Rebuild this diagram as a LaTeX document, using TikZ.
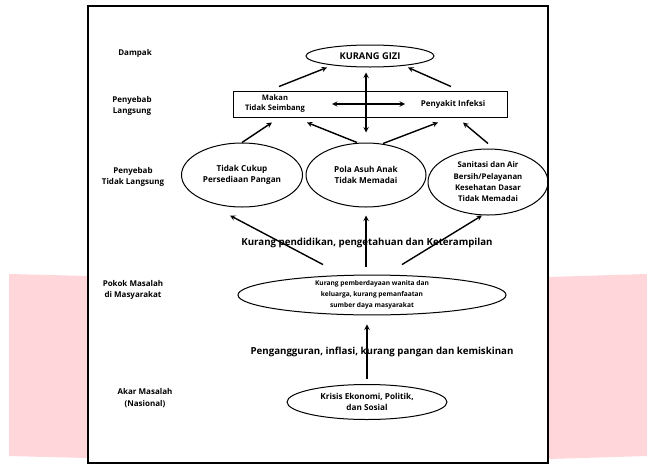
\documentclass[tikz,border=0pt]{standalone}
\usepackage{fontspec}
\setmainfont{Open Sans}
\usepackage{xcolor}
\usepackage{tikz}
\usetikzlibrary{shapes.geometric, positioning}
\definecolor{pinkbg}{RGB}{255,214,218}

\begin{document}
\begin{tikzpicture}[x=1pt, y=-1pt, >=stealth,
  arr/.style={->, line width=1.4pt},
  lbl/.style={font=\fontsize{8}{11.5}\selectfont\bfseries, align=center},
  txt/.style={font=\fontsize{8}{11}\selectfont\bfseries, align=center},
  elips/.style={draw, ellipse, line width=1pt, inner sep=0pt, align=center,
    font=\fontsize{8.2}{11.2}\selectfont\bfseries},
  mid/.style={font=\fontsize{9.7}{12}\selectfont\bfseries}]
\useasboundingbox (0,0) rectangle (647,466);
% Latar
\fill[pinkbg] (9,274) -- (87,276) -- (87,458) -- (9,456) -- cycle;
\fill[pinkbg] (549,277) -- (647,274) -- (647,456) -- (549,459) -- cycle;
\draw[line width=2.5pt, fill=white] (88,6) rectangle (548,463);

% Label tingkat
\node[lbl] (dampak) at (135,53) {Dampak};
\node[lbl] (langsung) at (132,106) {Penyebab\\Langsung};
\node[lbl] (tlangsung) at (133,177) {Penyebab\\Tidak Langsung};
\node[lbl] (pokok) at (133,290) {Pokok Masalah\\di Masyarakat};
\node[lbl] (akar) at (145,398) {Akar Masalah\\(Nasional)};

% Simpul
\node[elips, minimum width=128pt, minimum height=22pt, font=\fontsize{9.3}{10}\selectfont\bfseries] (kg) at (370,56) {KURANG GIZI};
\node[draw, line width=1pt, minimum width=274pt, minimum height=26pt, inner sep=0pt] (ls) at (370,104) {};
\node[txt, font=\fontsize{7.6}{10}\selectfont\bfseries] (makan) at (275,104) {Makan\\Tidak Seimbang};
\node[txt] (infeksi) at (453,104) {Penyakit Infeksi};
\node[elips, minimum width=121pt, minimum height=64pt] (e1) at (242,175) {Tidak Cukup\\Persediaan Pangan};
\node[elips, minimum width=120pt, minimum height=64pt] (e2) at (366,175) {Pola Asuh Anak\\Tidak Memadai};
\node[elips, minimum width=120pt, minimum height=66pt, font=\fontsize{7.8}{11.3}\selectfont\bfseries] (e3) at (488,182) {Sanitasi dan Air\\Bersih/Pelayanan\\Kesehatan Dasar\\Tidak Memadai};
\node[mid] (didik) at (367,243) {Kurang pendidikan, pengetahuan dan Keterampilan};
\node[elips, minimum width=268pt, minimum height=39pt, font=\fontsize{6.6}{10.8}\selectfont\bfseries] (e4) at (372,295) {Kurang pemberdayaan wanita dan\\keluarga, kurang pemanfaatan\\sumber daya masyarakat};
\node[mid] (anggur) at (382,352) {Pengangguran, inflasi, kurang pangan dan kemiskinan};
\node[elips, minimum width=160pt, minimum height=35pt] (e5) at (367,402) {Krisis Ekonomi, Politik,\\dan Sosial};

% Panah
\draw[arr] ([xshift=-91pt,yshift=4pt]ls.north) -- ([xshift=-43pt]kg.south);
\draw[arr] ([xshift=81pt,yshift=4pt]ls.north) -- ([xshift=38pt]kg.south);
\draw[arr, <->, shorten <=5pt, shorten >=10pt] (e2.north |- kg.south) -- (e2.north);
\draw[arr, <->] ([xshift=-38pt]ls.center) -- ([xshift=35pt]ls.center);
\draw[arr] (e1.north) -- ([xshift=-98pt,yshift=-5pt]ls.south);
\draw[arr] ([xshift=-9pt]e2.north) -- ([xshift=-63pt,yshift=-5pt]ls.south);
\draw[arr] ([xshift=17pt,yshift=-1pt]e2.north) -- ([xshift=68pt,yshift=-5pt]ls.south);
\draw[arr] ([yshift=5pt]e3.north) -- ([xshift=93pt,yshift=-5pt]ls.south);
\draw[arr] ([xshift=-49pt,yshift=10pt]e4.north) -- ([xshift=-12pt,yshift=-8pt]e1.south);
\draw[arr, shorten <=8pt, shorten >=8pt] (e2.south |- e4.north) -- (e2.south);
\draw[arr] ([xshift=30pt,yshift=10pt]e4.north) -- ([xshift=-6pt]e3.south);
\draw[arr, shorten <=5pt, shorten >=9pt] (e5.north) -- (e5.north |- e4.south);
\end{tikzpicture}
\end{document}
